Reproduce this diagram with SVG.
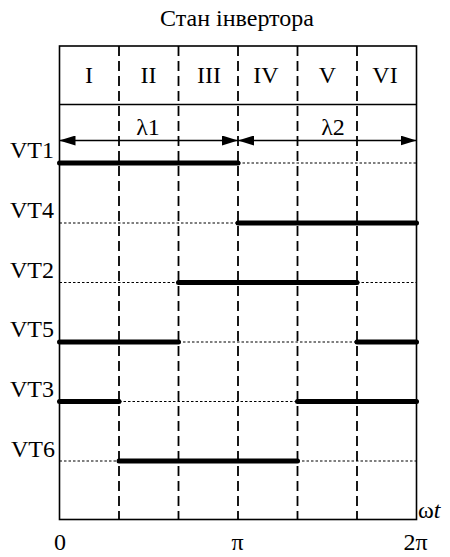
<svg xmlns="http://www.w3.org/2000/svg" width="450" height="557" viewBox="0 0 450 557">
<defs>
<style>
text{font-family:"Liberation Serif","Times New Roman",serif;font-size:24px;fill:#000}
.frame{fill:none;stroke:#000;stroke-width:1.6}
.div{stroke:#000;stroke-width:1.8;stroke-dasharray:10 5}
.on{stroke:#000;stroke-width:5;stroke-linecap:round}
.off{stroke:#000;stroke-width:1.2;stroke-dasharray:2.5 2}
.dim{stroke:#000;stroke-width:1.3}
.lbl{text-anchor:end}
.mid{text-anchor:middle}
</style>
<marker id="ah" viewBox="0 0 16 10" refX="16" refY="5" markerWidth="16" markerHeight="10" markerUnits="userSpaceOnUse" orient="auto-start-reverse">
<path d="M0,0 L16,5 L0,10 Z" fill="#000"/>
</marker>
</defs>
<rect width="450" height="557" fill="#fff"/>
<text id="title" class="mid" x="237" y="26">Стан інвертора</text>
<g id="frame">
<rect class="frame" x="59.5" y="46" width="357" height="473.5"/>
<line class="frame" x1="59.5" y1="104.5" x2="416.5" y2="104.5"/>
</g>
<g id="dividers">
<line class="div" x1="119" y1="46" x2="119" y2="519.5"/>
<line class="div" x1="178.5" y1="46" x2="178.5" y2="519.5"/>
<line class="div" x1="238" y1="46" x2="238" y2="519.5"/>
<line class="div" x1="297.5" y1="46" x2="297.5" y2="519.5"/>
<line class="div" x1="357" y1="46" x2="357" y2="519.5"/>
</g>
<g id="states">
<text class="mid" x="89" y="83">I</text>
<text class="mid" x="148.5" y="83">II</text>
<text class="mid" x="209" y="83">III</text>
<text class="mid" x="266" y="83">IV</text>
<text class="mid" x="327.5" y="83">V</text>
<text class="mid" x="385" y="83">VI</text>
</g>
<g id="connectors">
<line class="dim" x1="59.5" y1="140.5" x2="238" y2="140.5" marker-start="url(#ah)" marker-end="url(#ah)"/>
<line class="dim" x1="238" y1="140.5" x2="416.5" y2="140.5" marker-start="url(#ah)" marker-end="url(#ah)"/>
</g>
<text id="lambda1" class="mid" x="148" y="135">λ1</text>
<text id="lambda2" class="mid" x="333" y="135">λ2</text>
<g id="VT1">
<text class="lbl" x="54" y="158">VT1</text>
<line class="on" x1="59.5" y1="163" x2="238" y2="163"/>
<line class="off" x1="238" y1="163" x2="416.5" y2="163"/>
</g>
<g id="VT4">
<text class="lbl" x="54" y="218">VT4</text>
<line class="off" x1="59.5" y1="223" x2="238" y2="223"/>
<line class="on" x1="238" y1="223" x2="416.5" y2="223"/>
</g>
<g id="VT2">
<text class="lbl" x="54" y="278">VT2</text>
<line class="off" x1="59.5" y1="282.5" x2="178.5" y2="282.5"/>
<line class="on" x1="178.5" y1="282.5" x2="357" y2="282.5"/>
<line class="off" x1="357" y1="282.5" x2="416.5" y2="282.5"/>
</g>
<g id="VT5">
<text class="lbl" x="54" y="337">VT5</text>
<line class="on" x1="59.5" y1="342" x2="178.5" y2="342"/>
<line class="off" x1="178.5" y1="342" x2="357" y2="342"/>
<line class="on" x1="357" y1="342" x2="416.5" y2="342"/>
</g>
<g id="VT3">
<text class="lbl" x="54" y="397">VT3</text>
<line class="on" x1="59.5" y1="401.5" x2="119" y2="401.5"/>
<line class="off" x1="119" y1="401.5" x2="297.5" y2="401.5"/>
<line class="on" x1="297.5" y1="401.5" x2="416.5" y2="401.5"/>
</g>
<g id="VT6">
<text class="lbl" x="55" y="457">VT6</text>
<line class="off" x1="59.5" y1="461" x2="119" y2="461"/>
<line class="on" x1="119" y1="461" x2="297.5" y2="461"/>
<line class="off" x1="297.5" y1="461" x2="416.5" y2="461"/>
</g>
<g id="axis">
<text x="418" y="518">ω<tspan font-style="italic">t</tspan></text>
<text class="mid" x="60" y="550">0</text>
<text class="mid" x="237.5" y="550">π</text>
<text class="mid" x="415.5" y="550">2π</text>
</g>
</svg>
